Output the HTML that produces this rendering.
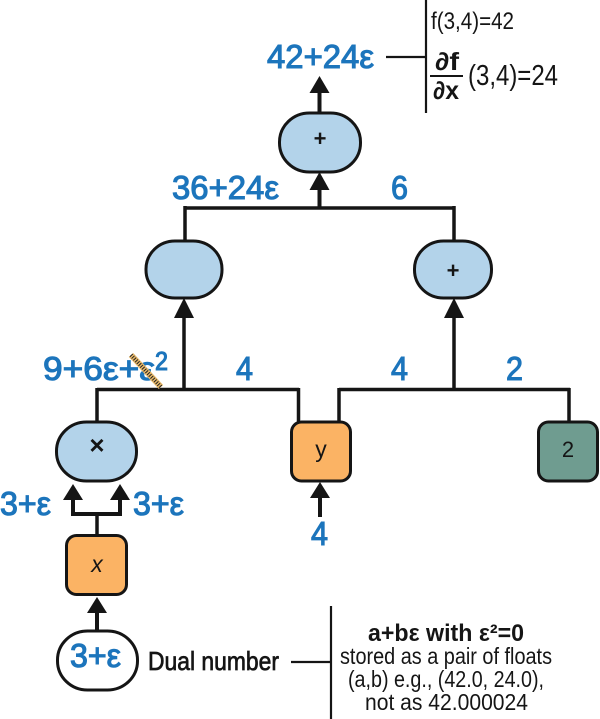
<!DOCTYPE html>
<html><head><meta charset="utf-8"><style>
html,body{margin:0;padding:0;background:#fff}
svg{display:block}
text{font-family:"Liberation Sans",sans-serif}
.b{fill:#1c75bc;stroke:#1c75bc;stroke-width:1.100px;font-size:33px}
.k{fill:#151515}
.m{stroke:#151515;stroke-width:.7px}
</style></head><body>
<svg width="600" height="719" viewBox="0 0 600 719" xmlns="http://www.w3.org/2000/svg">
<g fill="none" stroke="#151515" stroke-width="3.500">
<path d="M319.500 112V88M319.500 189V208" stroke-width="4"/>
<path d="M185 208H454M185 206V241M454 206V241"/>
<path d="M184 389V312M454 389V312" stroke-width="3.500"/>
<path d="M97 389.500H299M339 389.500H570M97 388V422M298.500 388V422M339 388V422M569 388V422"/>
<path d="M73 495V514H120V495" stroke-width="4"/>
<path d="M97 513V536"/>
<path d="M97 608V632M320 495V517" stroke-width="4"/>
</g>
<g fill="#151515">
<path d="M319.500 76L329.500 93H309.500Z"/>
<path d="M319.500 172L329.500 190H309.500Z"/>
<path d="M184 298L194 318H174Z"/>
<path d="M454 298L464 318H444Z"/>
<path d="M73 484L83 500H63Z"/>
<path d="M120 484L130 500H110Z"/>
<path d="M97 597L107 613H87Z"/>
<path d="M320 482L330 498H310Z"/>
</g>
<g stroke="#151515" stroke-width="3">
<rect x="279.500" y="113" width="81" height="59" rx="30" ry="29" fill="#b3d3ea"/>
<rect x="146" y="241" width="76" height="57" rx="29" ry="28" fill="#b3d3ea"/>
<rect x="414.500" y="241" width="77" height="57" rx="29" ry="28" fill="#b3d3ea"/>
<rect x="56.500" y="422" width="80" height="59" rx="30" ry="29" fill="#b3d3ea"/>
<rect x="291.500" y="422" width="59" height="59" rx="10" fill="#fbb364"/>
<rect x="538.500" y="422" width="59" height="59" rx="10" fill="#6f9c90"/>
<rect x="66.500" y="535.500" width="60" height="59" rx="10" fill="#fbb364"/>
<rect x="57.500" y="631" width="80" height="59" rx="30" ry="29" fill="#fff"/>
</g>
<g stroke="#151515" stroke-width="2.200" fill="none">
<path d="M426 0V113M386 57H426M331 606V719M291 662H331"/>
<path d="M430 76H463" stroke-width="2"/>
</g>
<text class="b" x="267" y="68" textLength="107" lengthAdjust="spacingAndGlyphs">42+24ε</text>
<text class="b" x="172" y="199" textLength="107" lengthAdjust="spacingAndGlyphs">36+24ε</text>
<text class="b" x="391" y="199" textLength="17" lengthAdjust="spacingAndGlyphs">6</text>
<text class="b" x="43" y="380" textLength="112" lengthAdjust="spacingAndGlyphs">9+6ε+ε</text>
<text class="b" x="155" y="370" style="font-size:26px" textLength="13" lengthAdjust="spacingAndGlyphs">2</text>
<path d="M131 355L161 387" stroke="#e8b96a" stroke-width="6" fill="none"/>
<path d="M131 355L161 387" stroke="#222" stroke-width="4" stroke-dasharray="1 1.500" fill="none"/>
<text class="b" x="236" y="380" textLength="17" lengthAdjust="spacingAndGlyphs">4</text>
<text class="b" x="391" y="380" textLength="17" lengthAdjust="spacingAndGlyphs">4</text>
<text class="b" x="506" y="380" textLength="17" lengthAdjust="spacingAndGlyphs">2</text>
<text class="b" x="0" y="515" textLength="51" lengthAdjust="spacingAndGlyphs">3+ε</text>
<text class="b" x="133" y="515" textLength="51" lengthAdjust="spacingAndGlyphs">3+ε</text>
<text class="b" x="311" y="545" textLength="17" lengthAdjust="spacingAndGlyphs">4</text>
<text class="b" x="70" y="667" textLength="51" lengthAdjust="spacingAndGlyphs">3+ε</text>
<g class="k" text-anchor="middle" font-weight="bold" font-size="22">
<text x="320" y="146">+</text>
<text x="453" y="278">+</text>
<text x="97" y="454" font-size="26">×</text>
</g>
<text class="k" x="97" y="572" text-anchor="middle" font-size="23" font-style="italic">x</text>
<text class="k" x="321" y="457" text-anchor="middle" font-size="23">y</text>
<text class="k" x="568" y="457" text-anchor="middle" font-size="22">2</text>
<text class="k" x="431" y="29" font-size="24" textLength="83" lengthAdjust="spacingAndGlyphs">f(3,4)=42</text>
<text class="k" x="435" y="70" font-size="25" font-weight="bold" textLength="24" lengthAdjust="spacingAndGlyphs">∂f</text>
<text class="k" x="433" y="99" font-size="25" font-weight="bold" textLength="26" lengthAdjust="spacingAndGlyphs">∂x</text>
<text class="k" x="468" y="85" font-size="29" textLength="90" lengthAdjust="spacingAndGlyphs">(3,4)=24</text>
<text class="k m" x="148" y="670" font-size="26" textLength="131" lengthAdjust="spacingAndGlyphs">Dual number</text>
<text class="k" x="368" y="641" font-size="24" font-weight="bold" textLength="156" lengthAdjust="spacingAndGlyphs">a+bε with ε²=0</text>
<text class="k" x="340" y="664" font-size="23" textLength="212" lengthAdjust="spacingAndGlyphs">stored as a pair of floats</text>
<text class="k" x="348" y="687" font-size="23" textLength="196" lengthAdjust="spacingAndGlyphs">(a,b) e.g., (42.0, 24.0),</text>
<text class="k" x="365" y="710" font-size="23" textLength="163" lengthAdjust="spacingAndGlyphs">not as 42.000024</text>
</svg>
</body></html>
